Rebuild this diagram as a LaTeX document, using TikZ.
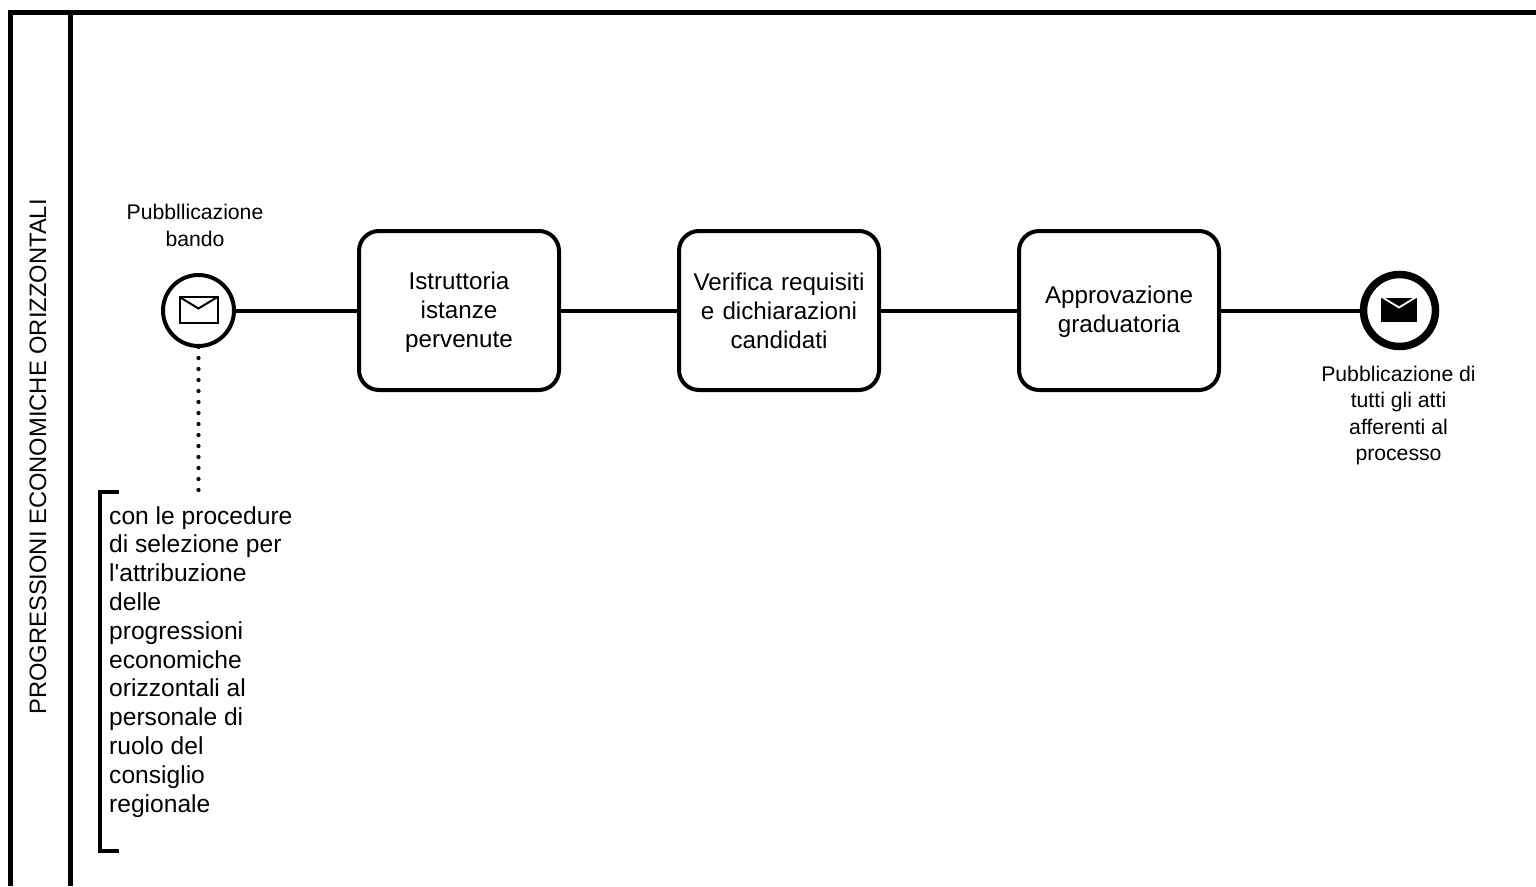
\documentclass[tikz,border=0pt]{standalone}
\usepackage{fontspec}
\setmainfont{Liberation Sans}[Ligatures=TeXOff]
\newcommand{\dropline}{\rule{0pt}{21pt}}
\tikzset{
  taskbox/.style={draw=black,line width=4pt,fill=white,rounded corners=20pt,minimum width=200pt,minimum height=159pt,inner sep=0pt,align=center,font=\fontsize{24.2}{29}\selectfont,text width=190pt},
  startev/.style={circle,draw=black,line width=4pt,fill=white,minimum size=71pt,inner sep=0pt},
  endev/.style={circle,draw=black,line width=7.5pt,fill=white,minimum size=72pt,inner sep=0pt},
  flow/.style={draw=black,line width=4pt},
  lbl/.style={align=center,inner sep=0pt,font=\fontsize{21.2}{26.2}\selectfont},
  note/.style={align=left,inner sep=0pt,font=\fontsize{24.6}{28.8}\selectfont,anchor=north west},
  assoc/.style={draw=black,line width=4.2pt,line cap=round,dash pattern=on 0pt off 11pt},
  poolline/.style={draw=black,line width=4.5pt},
  bracketline/.style={draw=black,line width=4pt},
}
\begin{document}
\begin{tikzpicture}[x=1pt,y=-1pt]
\useasboundingbox (0,0) rectangle (1536,886);
\fill[white] (0,0) rectangle (1536,886);
% pool
\coordinate (pb) at (10.5,886);
\coordinate (ptl) at (10.5,12.3);
\coordinate (ptr) at (1536,12.3);
\coordinate (dt) at (70.4,12.3);
\coordinate (db) at (70.4,886);
\draw[poolline,line join=miter] (pb) -- (ptl) -- (ptr);
\draw[poolline,line width=5pt] (dt) -- (db);
\node[rotate=90,inner sep=0pt,font=\fontsize{23.75}{27}\selectfont] (title) at (38,457) {PROGRESSIONI ECONOMICHE ORIZZONTALI};
% events and tasks
\node[startev] (start) at (198.5,310.5) {};
\node[taskbox] (t1) at (459,310.5) {\dropline Istruttoria\\istanze\\pervenute};
\node[taskbox] (t2) at (779,310.5) {Verifica requisiti\\e dichiarazioni\\candidati};
\node[taskbox] (t3) at (1119,310.5) {\dropline Approvazione\\graduatoria};
\node[endev] (end) at (1399.5,310.5) {};
\draw[flow] (start) -- (t1);
\draw[flow] (t1) -- (t2);
\draw[flow] (t2) -- (t3);
\draw[flow] (t3) -- (end);
% envelopes
\draw[black,line width=2pt,line join=miter] (179.5,297) rectangle (217.5,322.5);
\draw[black,line width=2pt,line join=miter] (179.5,297) -- (198.5,308.5) -- (217.5,297);
\fill[black] (1381,298) rectangle (1417,321.5);
\draw[white,line width=1.8pt] (1381,296.5) -- (1399,307.5) -- (1417,296.5);
% labels
\node[lbl] (l1) at (195,225.5) {Pubbllicazione\\bando};
\node[lbl] (l2) at (1398.5,415.5) {Pubblicazione di\\tutti gli atti\\afferenti al\\processo};
% annotation
\coordinate (bt) at (119,491.5);
\coordinate (btl) at (99.5,491.5);
\coordinate (bbl) at (99.5,851);
\coordinate (bb) at (119,851);
\coordinate (atop) at (198.5,490.6);
\draw[bracketline,line join=miter] (bt) -- (btl) -- (bbl) -- (bb);
\draw[assoc] ([yshift=1pt]start.south) -- (atop);
\node[note] (n) at (109,506) {con le procedure\\di selezione per\\l'attribuzione\\delle\\progressioni\\economiche\\orizzontali al\\personale di\\ruolo del\\consiglio\\regionale};
\end{tikzpicture}
\end{document}
